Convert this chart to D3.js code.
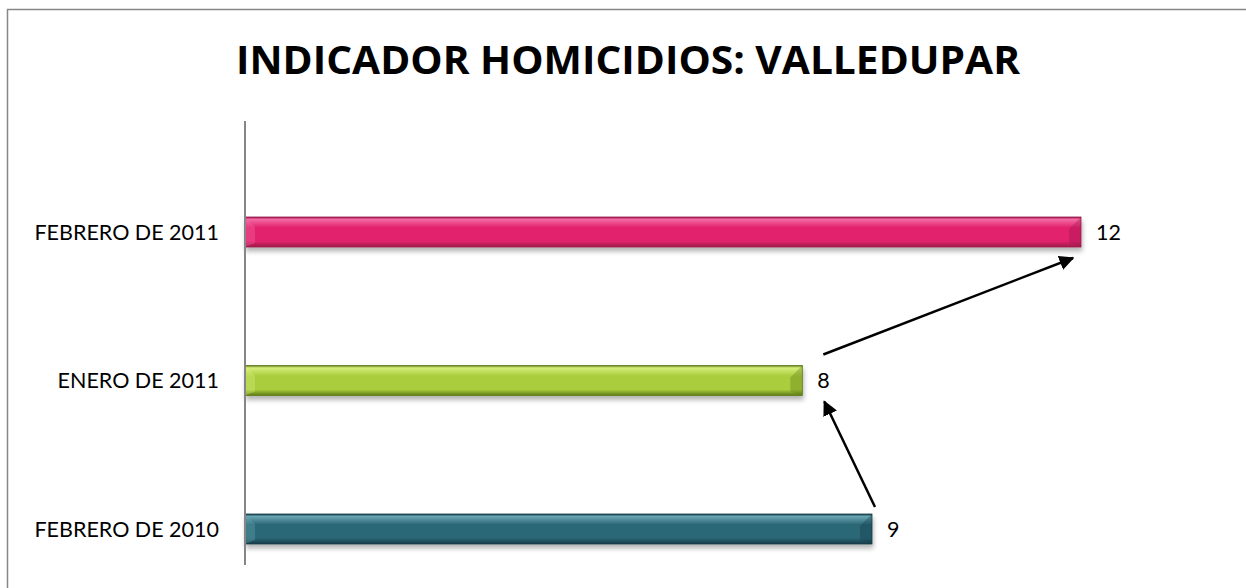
<!DOCTYPE html>
<html>
<head>
<meta charset="utf-8">
<script src="https://cdn.jsdelivr.net/npm/d3@7"></script>
<style>
  html, body { margin: 0; padding: 0; background: #fff; overflow: hidden; }
  svg { display: block; }
</style>
</head>
<body>
<div id="chart"></div>
<script>
// chart data
const categories = ["FEBRERO DE 2010", "ENERO DE 2011", "FEBRERO DE 2011"];
const values = [9, 8, 12];
const barColors = [
  { id: "teal", top: "#6aa5b3", mid: "#2c6777", bottom: "#163c47" },
  { id: "green", top: "#d6ee7a", mid: "#a9cd3c", bottom: "#5e7a18" },
  { id: "pink", top: "#f36aa3", mid: "#e3226d", bottom: "#9c1a4b" },
];
const title = "INDICADOR HOMICIDIOS: VALLEDUPAR";
// arrows go from one value label to the next (index pairs)
const arrows = [[0, 1], [1, 2]];

const width = 1246;
const height = 588;
const barHeight = 30;

const svg = d3.select("#chart")
  .append("svg")
  .attr("width", width)
  .attr("height", height)
  .style("overflow", "hidden");

const defs = svg.append("defs");

barColors.forEach((c) => {
  const g = defs.append("linearGradient")
    .attr("id", "grad-" + c.id)
    .attr("x1", 0).attr("y1", 0).attr("x2", 0).attr("y2", 1);
  g.append("stop").attr("offset", "0%").attr("stop-color", c.bottom);
  g.append("stop").attr("offset", "8%").attr("stop-color", c.top);
  g.append("stop").attr("offset", "35%").attr("stop-color", c.mid);
  g.append("stop").attr("offset", "80%").attr("stop-color", c.mid);
  g.append("stop").attr("offset", "100%").attr("stop-color", c.bottom);
});

const shadow = defs.append("filter")
  .attr("id", "shadow")
  .attr("x", "-5%").attr("y", "-30%")
  .attr("width", "110%").attr("height", "180%");
shadow.append("feGaussianBlur").attr("in", "SourceAlpha").attr("stdDeviation", 2.5);
shadow.append("feOffset").attr("dx", 1).attr("dy", 4).attr("result", "off");
shadow.append("feComponentTransfer").append("feFuncA").attr("type", "linear").attr("slope", 0.3);
const merge = shadow.append("feMerge");
merge.append("feMergeNode");
merge.append("feMergeNode").attr("in", "SourceGraphic");

defs.append("marker")
  .attr("id", "arrowhead")
  .attr("viewBox", "0 0 10 10")
  .attr("refX", 9).attr("refY", 5)
  .attr("markerWidth", 6).attr("markerHeight", 6)
  .attr("markerUnits", "strokeWidth")
  .attr("orient", "auto")
  .append("path")
  .attr("d", "M0,0 L10,5 L0,10 z")
  .attr("fill", "#000");

// outer frame (only left and top edges are inside the picture)
svg.append("path")
  .attr("d", `M7.5,${height} L7.5,9.5 L${width},9.5`)
  .attr("fill", "none")
  .attr("stroke", "#868686")
  .attr("stroke-width", 1.5);

// title
svg.append("text")
  .attr("x", 628)
  .attr("y", 74)
  .attr("text-anchor", "middle")
  .attr("font-family", "'Open Sans', sans-serif")
  .attr("font-weight", "bold")
  .attr("font-size", 39)
  .attr("textLength", 784)
  .attr("lengthAdjust", "spacingAndGlyphs")
  .attr("fill", "#000")
  .text(title);

const x = d3.scaleLinear().domain([0, 12]).range([245, 1081]);
const y = d3.scalePoint().domain(categories).range([529, 232]);

const data = categories.map((c, i) => ({ cat: c, value: values[i], color: barColors[i] }));

// bars
const bars = svg.append("g").selectAll("g.bar")
  .data(data)
  .join("g")
  .attr("class", "bar")
  .attr("filter", "url(#shadow)");

bars.append("rect")
  .attr("x", x(0))
  .attr("y", (d) => y(d.cat) - barHeight / 2)
  .attr("width", (d) => x(d.value) - x(0))
  .attr("height", barHeight)
  .attr("fill", (d) => `url(#grad-${d.color.id})`)
  .attr("stroke", (d) => d.color.bottom)
  .attr("stroke-width", 0.8);

// bevel on the right end
bars.append("path")
  .attr("d", (d) => {
    const xe = x(d.value), yt = y(d.cat) - barHeight / 2;
    return `M${xe},${yt} L${xe - 12},${yt + 12} L${xe - 12},${yt + barHeight - 4} L${xe},${yt + barHeight} Z`;
  })
  .attr("fill", (d) => d.color.bottom)
  .attr("opacity", 0.35);
bars.append("path")
  .attr("d", (d) => {
    const xs = x(0), yt = y(d.cat) - barHeight / 2;
    return `M${xs},${yt} L${xs + 10},${yt + 10} L${xs + 10},${yt + barHeight - 4} L${xs},${yt + barHeight} Z`;
  })
  .attr("fill", (d) => d.color.top)
  .attr("opacity", 0.35);

// axis line
svg.append("line")
  .attr("x1", x(0)).attr("x2", x(0))
  .attr("y1", 121).attr("y2", 565)
  .attr("stroke", "#868686")
  .attr("stroke-width", 2);

// category labels
svg.append("g").selectAll("text")
  .data(data)
  .join("text")
  .attr("x", x(0) - 26)
  .attr("y", (d) => y(d.cat))
  .attr("dy", "0.35em")
  .attr("text-anchor", "end")
  .attr("font-family", "Lato, sans-serif")
  .attr("font-size", 21.5)
  .attr("fill", "#000")
  .text((d) => d.cat);

// value labels
svg.append("g").selectAll("text")
  .data(data)
  .join("text")
  .attr("x", (d) => x(d.value) + 15)
  .attr("y", (d) => y(d.cat))
  .attr("dy", "0.35em")
  .attr("font-family", "Lato, sans-serif")
  .attr("font-size", 21.5)
  .attr("fill", "#000")
  .text((d) => d.value);

// arrows between the value labels
svg.append("g").selectAll("line")
  .data(arrows)
  .join("line")
  .attr("x1", (d) => x(data[d[0]].value) + (d[0] === 0 ? 3 : 21))
  .attr("y1", (d) => y(data[d[0]].cat) - (d[0] === 0 ? 22 : 26))
  .attr("x2", (d) => x(data[d[1]].value) + (d[1] === 1 ? 22 : -8))
  .attr("y2", (d) => y(data[d[1]].cat) + (d[1] === 1 ? 21 : 26))
  .attr("stroke", "#000")
  .attr("stroke-width", 2.5)
  .attr("marker-end", "url(#arrowhead)");
</script>
</body>
</html>
